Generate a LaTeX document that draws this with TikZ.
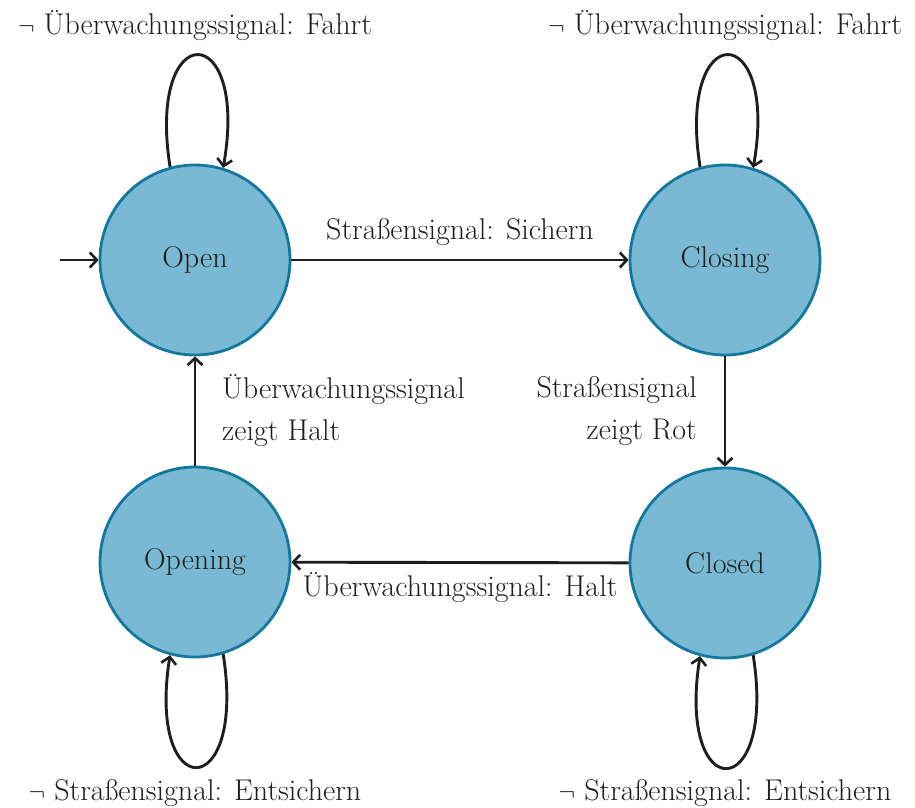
\documentclass[tikz,border=0pt]{standalone}
\usepackage{fontspec}
\usetikzlibrary{arrows.meta}
\definecolor{statefill}{RGB}{122,185,211}
\definecolor{stateline}{RGB}{18,120,158}
\definecolor{ink}{RGB}{30,30,30}
\begin{document}
\begin{tikzpicture}[x=1pt,y=-1pt,
  every node/.style={font=\fontsize{30}{42}\selectfont, text=ink},
  state/.style={circle, draw=stateline, fill=statefill, line width=2.8pt, minimum size=190pt, inner sep=0pt},
  trans/.style={draw=ink, line width=2.9pt, -{Straight Barb[length=7pt,width=15pt,line width=2.6pt]}},
  lbl/.style={inner sep=0pt, align=center}]
\useasboundingbox (0,0) rectangle (915,807);

% states
\node[state] (open)    at (195,260) {Open};
\node[state] (closing) at (725,260) {Closing};
\node[state] (opening) at (195,562) {Opening};
\node[state] (closed)  at (725,563) {Closed};

% initial marker
\coordinate (init) at (60,260);
\draw[trans] (init) -- (open);

% transitions between states
\draw[trans] (open) -- (closing);
\node[lbl] (l1) at (460,232) {Straßensignal: Sichern};

\draw[trans] (closing) -- (closed);
\node[lbl, align=right, anchor=east] (l2) at (697,411) {Straßensignal\\zeigt Rot};

\draw[trans] (closed) -- (opening);
\node[lbl] (l3) at (460,588) {Überwachungssignal: Halt};

\draw[trans] (opening) -- (open);
\node[lbl, align=left, anchor=west] (l4) at (222,411) {Überwachungssignal\\zeigt Halt};

% self loops
\draw[trans] (open.105) .. controls +(-99:152) and +(-80:152) .. (open.73);
\node[lbl] (s1) at (195,26) {$\neg$ Überwachungssignal: Fahrt};

\draw[trans] (closing.105) .. controls +(-99:152) and +(-80:152) .. (closing.73);
\node[lbl] (s2) at (725,26) {$\neg$ Überwachungssignal: Fahrt};

\draw[trans] (opening.-73) .. controls +(81:152) and +(99:152) .. (opening.-105);
\node[lbl] (s3) at (195,793) {$\neg$ Straßensignal: Entsichern};

\draw[trans] (closed.-73) .. controls +(81:152) and +(99:152) .. (closed.-105);
\node[lbl] (s4) at (725,793) {$\neg$ Straßensignal: Entsichern};
\end{tikzpicture}
\end{document}
